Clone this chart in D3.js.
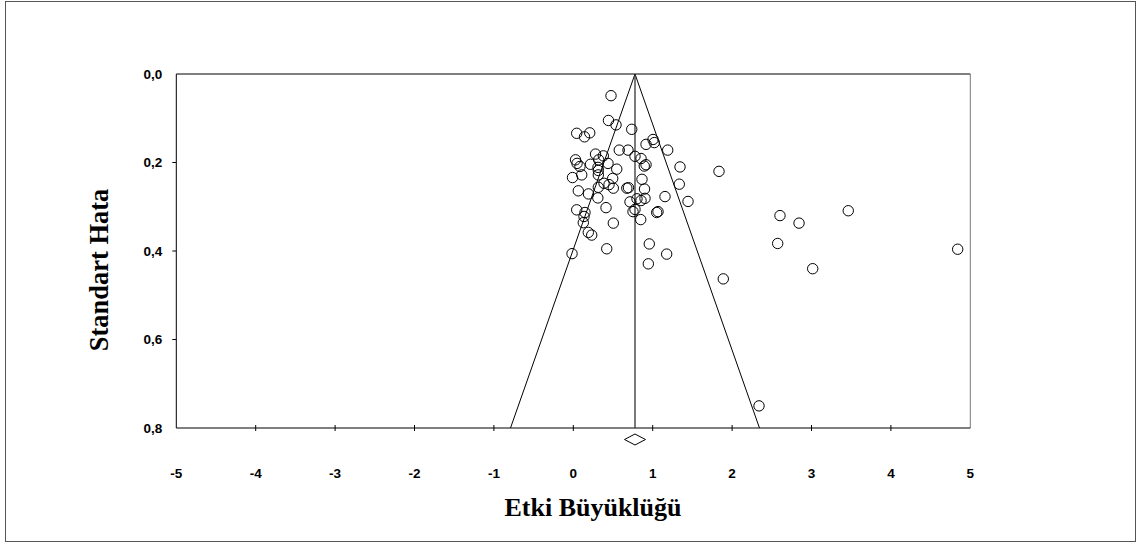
<!DOCTYPE html>
<html>
<head>
<meta charset="utf-8">
<script src="https://cdn.jsdelivr.net/npm/d3@7"></script>
<style>
  body { margin: 0; background: #fff; }
</style>
</head>
<body>
<div id="chart"></div>
<script>
// Funnel plot data: effect sizes and their standard errors
const effect = [
    0.475, 0.443, 0.538, 0.736, 0.043, 0.141, 0.207, 0.916, 1.004, 1.020,
    0.579, 0.689, 1.189, 0.280, 0.378, 0.320, 0.028, 0.047, 0.084, 0.217,
    0.311, 0.315, 0.437, 0.547, 0.777, 0.853, 0.894, 0.916, 1.344, -0.010,
    0.106, 0.315, 0.496, 0.865, 1.335, 0.387, 0.450, 0.504, 0.315, 0.063,
    0.191, 0.309, 0.674, 0.695, 0.897, 1.155, 1.445, 0.714, 0.853, 0.903,
    0.802, 0.412, 0.043, 0.147, 0.135, 0.126, 0.777, 0.752, 0.849, 1.050,
    1.067, 0.504, 0.189, 0.232, 0.421, -0.016, 0.957, 1.176, 0.945, 1.889,
    1.835, 2.603, 2.843, 3.463, 2.574, 3.015, 4.841, 2.339
];
const stdErr = [
    0.049, 0.105, 0.115, 0.125, 0.134, 0.142, 0.133, 0.159, 0.148, 0.155,
    0.172, 0.172, 0.172, 0.181, 0.185, 0.194, 0.194, 0.202, 0.209, 0.204,
    0.211, 0.218, 0.202, 0.215, 0.186, 0.191, 0.208, 0.205, 0.210, 0.234,
    0.228, 0.228, 0.236, 0.238, 0.249, 0.247, 0.250, 0.258, 0.256, 0.264,
    0.271, 0.280, 0.258, 0.257, 0.260, 0.277, 0.288, 0.289, 0.286, 0.281,
    0.282, 0.302, 0.307, 0.313, 0.322, 0.336, 0.306, 0.311, 0.329, 0.313,
    0.311, 0.337, 0.358, 0.364, 0.395, 0.406, 0.384, 0.407, 0.429, 0.463,
    0.220, 0.320, 0.337, 0.309, 0.383, 0.440, 0.396, 0.750
];
const meanEffect = 0.777;
const xTicks = [-5, -4, -3, -2, -1, 0, 1, 2, 3, 4, 5];
const yTicks = [0, 0.2, 0.4, 0.6, 0.8];

const width = 1140, height = 544;
const plotLeft = 176.3, plotRight = 970.3, plotTop = 74, plotBottom = 428;

const svg = d3.select("#chart").append("svg")
    .attr("width", width)
    .attr("height", height);

// outer frame
svg.append("rect")
    .attr("x", 5.5).attr("y", 1.5)
    .attr("width", 1130).attr("height", 540)
    .attr("fill", "none")
    .attr("stroke", "#555");

const x = d3.scaleLinear().domain([-5, 5]).range([plotLeft, plotRight]);
const y = d3.scaleLinear().domain([0, 0.8]).range([plotTop, plotBottom]);

// plot box (top and right edges)
svg.append("line")
    .attr("x1", plotLeft).attr("x2", plotRight).attr("y1", plotTop).attr("y2", plotTop)
    .attr("stroke", "#000");
svg.append("line")
    .attr("x1", plotRight).attr("x2", plotRight).attr("y1", plotTop).attr("y2", plotBottom)
    .attr("stroke", "#777");

// x axis, ticks crossing the line
const gx = svg.append("g").attr("transform", `translate(0,${plotBottom})`);
gx.append("line")
    .attr("x1", plotLeft).attr("x2", plotRight)
    .attr("stroke", "#000");
gx.selectAll(".tick")
    .data(xTicks.slice(1, -1))
    .enter().append("line")
    .attr("x1", d => x(d)).attr("x2", d => x(d))
    .attr("y1", -3).attr("y2", 3)
    .attr("stroke", "#000");
gx.selectAll("text")
    .data(xTicks)
    .enter().append("text")
    .attr("x", d => x(d))
    .attr("y", 50)
    .attr("text-anchor", "middle")
    .style("font", "bold 13.5px 'Liberation Sans', Arial, sans-serif")
    .text(d => d);

// y axis
const gy = svg.append("g").attr("transform", `translate(${plotLeft},0)`);
gy.append("line")
    .attr("y1", plotTop).attr("y2", plotBottom)
    .attr("stroke", "#000");
gy.selectAll(".tick")
    .data(yTicks.slice(1, -1))
    .enter().append("line")
    .attr("x1", -4).attr("x2", 0)
    .attr("y1", d => y(d)).attr("y2", d => y(d))
    .attr("stroke", "#000");
gy.selectAll("text")
    .data(yTicks)
    .enter().append("text")
    .attr("x", -14)
    .attr("y", d => y(d))
    .attr("dy", "0.35em")
    .attr("text-anchor", "end")
    .style("font", "bold 13.5px 'Liberation Sans', Arial, sans-serif")
    .text(d => d3.format(".1f")(d).replace(".", ","));

// funnel and pooled effect line
const seMax = 0.8;
svg.append("path")
    .attr("d", d3.line()([
        [x(meanEffect - 1.96 * seMax), y(seMax)],
        [x(meanEffect), y(0)],
        [x(meanEffect + 1.96 * seMax), y(seMax)]
    ]))
    .attr("fill", "none")
    .attr("stroke", "#000")
    .attr("stroke-width", 1);
svg.append("line")
    .attr("x1", x(meanEffect)).attr("x2", x(meanEffect))
    .attr("y1", y(0)).attr("y2", y(seMax))
    .attr("stroke", "#333")
    .attr("stroke-width", 1.3);

// study points
svg.append("g")
    .selectAll("circle")
    .data(effect.map((e, i) => [e, stdErr[i]]))
    .enter().append("circle")
    .attr("cx", d => x(d[0]))
    .attr("cy", d => y(d[1]))
    .attr("r", 5.2)
    .attr("fill", "none")
    .attr("stroke", "#000")
    .attr("stroke-width", 1);

// diamond for the pooled estimate
const dx = x(meanEffect), dy = 439.5;
svg.append("path")
    .attr("d", `M${dx - 10.5},${dy} L${dx},${dy - 5.5} L${dx + 10.5},${dy} L${dx},${dy + 5.5} Z`)
    .attr("fill", "#fff")
    .attr("stroke", "#000");

// axis titles
svg.append("text")
    .attr("x", 593)
    .attr("y", 516)
    .attr("text-anchor", "middle")
    .style("font", "bold 26px 'Liberation Serif', 'Times New Roman', serif")
    .text("Etki Büyüklüğü");

svg.append("text")
    .attr("transform", "translate(108,270) rotate(-90)")
    .attr("text-anchor", "middle")
    .style("font", "bold 26.5px 'Liberation Serif', 'Times New Roman', serif")
    .text("Standart Hata");
</script>
</body>
</html>
